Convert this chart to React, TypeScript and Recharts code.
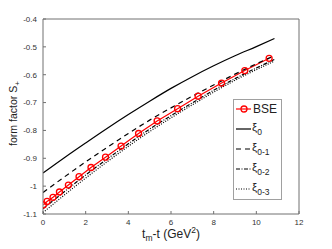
import React from "react";
import { LineChart, Line, XAxis, YAxis } from "recharts";

// BSE points (t_m - t in GeV^2, S+)
const bseT = [0.02, 0.19, 0.47, 0.77, 1.19, 1.69, 2.25, 2.93, 3.66, 4.48, 5.35, 6.31, 7.27, 8.37, 9.46, 10.6];
const bseS = [-1.067, -1.055, -1.04, -1.021, -0.996, -0.966, -0.933, -0.896, -0.856, -0.811, -0.766, -0.722, -0.677, -0.63, -0.585, -0.541];

// sampled xi curves
const curveT = [0, 1, 2, 3, 4, 5, 6, 7, 8, 9, 10, 10.85];
const xi0 = [-0.953, -0.898, -0.845, -0.793, -0.743, -0.695, -0.649, -0.607, -0.568, -0.532, -0.499, -0.47];
const xi01 = [-1.023, -0.967, -0.913, -0.861, -0.811, -0.763, -0.719, -0.677, -0.637, -0.598, -0.561, -0.532];
const xi02 = [-1.081, -1.02, -0.96, -0.903, -0.848, -0.795, -0.747, -0.701, -0.656, -0.614, -0.576, -0.545];
const xi03 = [-1.095, -1.032, -0.971, -0.913, -0.857, -0.804, -0.755, -0.708, -0.663, -0.62, -0.582, -0.551];

const xTicks = [0, 2, 4, 6, 8, 10, 12];
const yTicks = [-1.1, -1, -0.9, -0.8, -0.7, -0.6, -0.5, -0.4];

const legendSubs = ["0", "0-1", "0-2", "0-3"];
const legendDash = ["", "5 4", "4 1.5 1 1.5", "1 1.5"];

const bseData = bseT.map((t, i) => ({ t, v: bseS[i] }));
const curve = (vals: number[]) => curveT.map((t, i) => ({ t, v: vals[i] }));
const curves = [xi0, xi01, xi02, xi03];

const FONT = "'Liberation Sans', Arial, sans-serif";
const AXIS = "#707070";
const TEXT = "#333333";

const fmt = (v: number) => String(Math.round(v * 10) / 10);

function XLabel(props: any) {
  const vb = props.viewBox;
  return (
    <text x={vb.x + vb.width / 2} y={238} textAnchor="middle" fontFamily={FONT} fontSize={12} fill="#222">
      t<tspan fontSize={8.5} dy={3}>m</tspan>
      <tspan dy={-3}>-t (GeV</tspan>
      <tspan fontSize={8.5} dy={-5}>2</tspan>
      <tspan dy={5}>)</tspan>
    </text>
  );
}

function YLabel(props: any) {
  const vb = props.viewBox;
  const cy = vb.y + vb.height / 2 - 3;
  return (
    <text x={17} y={cy} transform={`rotate(-90 17 ${cy})`} textAnchor="middle" fontFamily={FONT} fontSize={10.5} fill="#222">
      form factor S<tspan fontSize={8} dy={3}>+</tspan>
    </text>
  );
}

function LegendBox() {
  const rowY = (i: number) => 9 + i * 20;
  return (
    <div style={{ position: "absolute", left: 233, top: 99, width: 49, height: 101, border: "1px solid #a0a0a0", background: "#fff", boxSizing: "border-box" }}>
      <svg width={47} height={99} style={{ display: "block" }}>
        <line x1={2} x2={17} y1={rowY(0)} y2={rowY(0)} stroke="#ff0000" strokeWidth={1.2} />
        <circle cx={10} cy={rowY(0)} r={3} stroke="#ff0000" strokeWidth={1.3} fill="none" />
        <text x={19} y={rowY(0) + 4} fontFamily={FONT} fontSize={12} fill="#222">BSE</text>
        {legendSubs.map((s, i) => (
          <g key={s}>
            <line x1={2} x2={17} y1={rowY(i + 1)} y2={rowY(i + 1)} stroke="#000" strokeWidth={1.2} strokeDasharray={legendDash[i] || undefined} />
            <text x={18} y={rowY(i + 1) + 2} fontFamily={FONT} fontSize={11.5} fill="#222">
              ξ<tspan fontSize={8.5} dy={4}>{s}</tspan>
            </text>
          </g>
        ))}
      </svg>
    </div>
  );
}

export default function App() {
  return (
    <div style={{ position: "absolute", left: 0, top: 0, width: 332, height: 249, background: "#fff" }}>
      <LineChart width={332} height={249} margin={{ top: 0, right: 0, bottom: 0, left: 0 }}>
        <XAxis
          type="number"
          dataKey="t"
          domain={[0, 12]}
          ticks={xTicks}
          allowDataOverflow
          height={35}
          stroke={AXIS}
          tickSize={-3}
          tickMargin={8}
          tick={{ fontSize: 8, fill: TEXT, fontFamily: FONT }}
          label={<XLabel />}
        />
        <XAxis
          xAxisId="top"
          orientation="top"
          type="number"
          domain={[0, 12]}
          ticks={xTicks}
          allowDataOverflow
          height={19}
          stroke={AXIS}
          tickSize={-3}
          tick={false}
        />
        <YAxis
          type="number"
          domain={[-1.1, -0.4]}
          ticks={yTicks}
          allowDataOverflow
          width={43}
          stroke={AXIS}
          tickSize={-3}
          tickMargin={9}
          tickFormatter={fmt}
          tick={{ fontSize: 8, fill: TEXT, fontFamily: FONT }}
          label={<YLabel />}
        />
        <YAxis
          yAxisId="right"
          orientation="right"
          type="number"
          domain={[-1.1, -0.4]}
          ticks={yTicks}
          allowDataOverflow
          width={33}
          stroke={AXIS}
          tickSize={-3}
          tick={false}
        />
        <Line
          data={bseData}
          dataKey="v"
          type="linear"
          stroke="#ff0000"
          strokeWidth={1.2}
          dot={{ r: 3, stroke: "#ff0000", strokeWidth: 1.3, fill: "none" }}
          isAnimationActive={false}
        />
        {curves.map((c, i) => (
          <Line
            key={i}
            data={curve(c)}
            dataKey="v"
            type="monotone"
            stroke="#000"
            strokeWidth={1.2}
            strokeDasharray={legendDash[i] || undefined}
            dot={false}
            isAnimationActive={false}
          />
        ))}
      </LineChart>
      <LegendBox />
    </div>
  );
}
